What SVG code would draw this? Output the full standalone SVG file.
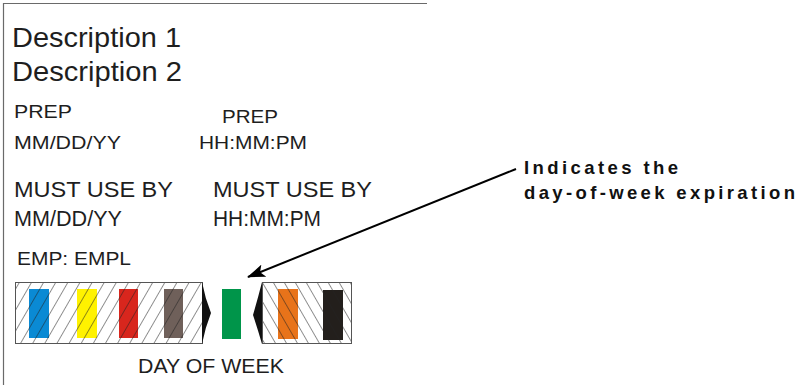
<svg xmlns="http://www.w3.org/2000/svg" width="799" height="385" viewBox="0 0 799 385">
<style>
.t{font-family:"Liberation Sans",Arial,sans-serif;fill:#1e1e1e}
.b{font-family:"Liberation Sans",Arial,sans-serif;font-weight:bold;fill:#111}
.frame{stroke:#6a6a6a;stroke-width:1.2;fill:none}
.box{fill:none;stroke:#555;stroke-width:1}
</style>
<defs>
<pattern id="hatchL" patternUnits="userSpaceOnUse" width="10.5" height="10.5" patternTransform="rotate(30)">
<line x1="0" y1="0" x2="0" y2="10.5" stroke="#222" stroke-width="1"/>
</pattern>
<pattern id="hatchR" patternUnits="userSpaceOnUse" width="9.5" height="9.5" patternTransform="rotate(-30)">
<line x1="0" y1="0" x2="0" y2="9.5" stroke="#222" stroke-width="1"/>
</pattern>
<marker id="ah" markerWidth="18" markerHeight="13" refX="17" refY="6.5" orient="auto" markerUnits="userSpaceOnUse">
<path d="M0,0 L18,6.5 L0,13 L4,6.5 Z" fill="#000"/>
</marker>
</defs>
<path class="frame" d="M3.5,385 V3.5 H427"/>
<g id="descriptions">
<text class="t" x="12" y="47" font-size="28" textLength="169" lengthAdjust="spacingAndGlyphs">Description 1</text>
<text class="t" x="12" y="81" font-size="28" textLength="170" lengthAdjust="spacingAndGlyphs">Description 2</text>
</g>
<g id="prep">
<text class="t" x="14" y="118" font-size="18" textLength="58" lengthAdjust="spacingAndGlyphs">PREP</text>
<text class="t" x="222" y="123" font-size="18" textLength="56" lengthAdjust="spacingAndGlyphs">PREP</text>
<text class="t" x="14" y="149" font-size="19" textLength="107" lengthAdjust="spacingAndGlyphs">MM/DD/YY</text>
<text class="t" x="199" y="149" font-size="19" textLength="108" lengthAdjust="spacingAndGlyphs">HH:MM:PM</text>
</g>
<g id="mustuse">
<text class="t" x="14" y="197" font-size="22" textLength="159" lengthAdjust="spacingAndGlyphs">MUST USE BY</text>
<text class="t" x="213" y="197" font-size="22" textLength="159" lengthAdjust="spacingAndGlyphs">MUST USE BY</text>
<text class="t" x="14" y="226" font-size="22" textLength="108" lengthAdjust="spacingAndGlyphs">MM/DD/YY</text>
<text class="t" x="213" y="226" font-size="22" textLength="108" lengthAdjust="spacingAndGlyphs">HH:MM:PM</text>
</g>
<g id="emp">
<text class="t" x="17" y="265" font-size="19" textLength="114" lengthAdjust="spacingAndGlyphs">EMP: EMPL</text>
</g>
<g id="daybar">
<rect x="29" y="289" width="20" height="49" fill="#0a8ad4"/>
<rect x="77" y="289" width="20" height="49" fill="#fff200"/>
<rect x="119" y="289" width="19" height="49" fill="#d8261d"/>
<rect x="164" y="289" width="19" height="49" fill="#6f605a"/>
<rect x="15.5" y="282.5" width="187" height="61" fill="url(#hatchL)"/>
<rect x="15.5" y="282.5" width="187" height="61" class="box"/>
<path d="M202,282 Q205,298 211,313 Q205,328 202,344 Z" fill="#111"/>
<rect x="222" y="289" width="19" height="50" fill="#00954a"/>
<rect x="278" y="289" width="20" height="50" fill="#e8731a"/>
<rect x="323" y="290" width="20" height="50" fill="#231f1c"/>
<rect x="262.5" y="282.5" width="89" height="61" fill="url(#hatchR)"/>
<rect x="262.5" y="282.5" width="89" height="61" class="box"/>
<path d="M262,282 Q258,298 253,315 Q258,330 262,344 Z" fill="#111"/>
<text class="t" x="138" y="373" font-size="20" textLength="146" lengthAdjust="spacingAndGlyphs">DAY OF WEEK</text>
</g>
<g id="callout">
<text class="b" x="524" y="174" font-size="18.5" textLength="154" lengthAdjust="spacing">Indicates the</text>
<text class="b" x="524" y="199" font-size="18.5" textLength="271" lengthAdjust="spacing">day-of-week expiration</text>
</g>
<g id="connectors">
<line x1="516" y1="169" x2="248" y2="277" stroke="#000" stroke-width="2" marker-end="url(#ah)"/>
</g>
</svg>
